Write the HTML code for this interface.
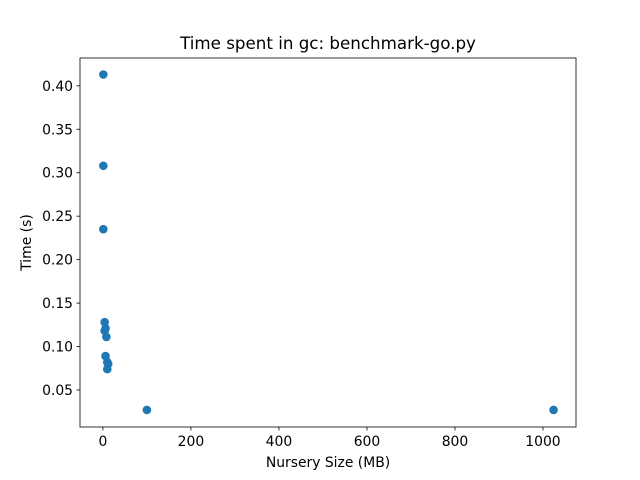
<!DOCTYPE html>
<html><head><meta charset="utf-8"><style>body{margin:0;background:#fff}svg{display:block;font-family:"DejaVu Sans","Liberation Sans",sans-serif}</style></head>
<body>
<svg id="chart" width="640" height="480"></svg>
<script>
const xValues=[1,1,1,4,6,4,8,6,10,12,10,100,1024];
const yValues=[0.413,0.308,0.235,0.128,0.121,0.118,0.111,0.089,0.082,0.080,0.074,0.027,0.027];
const xTicks=[0,200,400,600,800,1000];
const yTicks=[0.05,0.10,0.15,0.20,0.25,0.30,0.35,0.40];
const L=80,R=576,T=58,B=427,xMin=-52,xMax=1075,yMin=0.0074,yMax=0.432;
const sx=v=>L+(v-xMin)/(xMax-xMin)*(R-L);
const sy=v=>B-(v-yMin)/(yMax-yMin)*(B-T);
const svg=document.getElementById('chart');const NS='http://www.w3.org/2000/svg';
function mk(t,a,p){const e=document.createElementNS(NS,t);for(const k in a)e.setAttribute(k,a[k]);(p||svg).appendChild(e);return e;}
xTicks.forEach(v=>{const x=sx(v);
const l=mk('line',{x1:x,x2:x,y1:B,y2:B+3.5,stroke:'#000','stroke-width':0.8});


const t=mk('text',{x:x,y:B+19,'text-anchor':'middle','font-size':13.9});t.textContent=v;

});
yTicks.forEach(v=>{const y=sy(v);
const l=mk('line',{x1:L-3.5,x2:L,y1:y,y2:y,stroke:'#000','stroke-width':0.8});


const t=mk('text',{x:L-7,y:y+5,'text-anchor':'end','font-size':13.9});t.textContent=v.toFixed(2);

});
xValues.forEach((v,i)=>{const c=mk('circle',{cx:sx(v),cy:sy(yValues[i]),r:4.3,fill:'#1f77b4'});

});
const f=mk('rect',{x:L,y:T,width:R-L,height:B-T,fill:'none',stroke:'#000','stroke-width':0.8});


const ti=mk('text',{x:(L+R)/2,y:T-9,'text-anchor':'middle','font-size':16.7});ti.textContent='Time spent in gc: benchmark-go.py';


const xl=mk('text',{x:(L+R)/2,y:467,'text-anchor':'middle','font-size':13.9});xl.textContent='Nursery Size (MB)';


const yl=mk('text',{x:0,y:0,'text-anchor':'middle','font-size':13.9,transform:'translate(31,'+((T+B)/2)+') rotate(-90)'});yl.textContent='Time (s)';


</script>
</body></html>
